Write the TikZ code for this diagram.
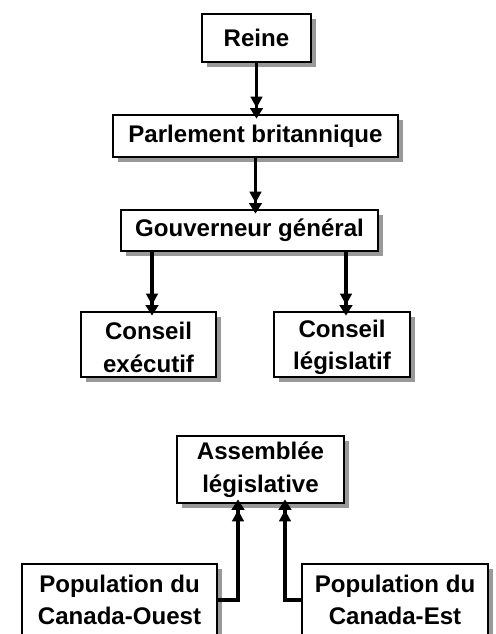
\documentclass[tikz,border=0pt]{standalone}
\usepackage{fontspec}
\setmainfont{Liberation Sans}
\usetikzlibrary{arrows.meta,shadows}

\tikzset{
  box/.style={draw=black, line width=0.9pt, fill=white, align=center, inner sep=0pt,
    font=\bfseries\fontsize{13.7}{18.5}\selectfont,
    drop shadow={shadow xshift=2.8pt, shadow yshift=-2.8pt, fill=black!40, opacity=1}},
  link/.style={line width=2pt,
    -{Triangle[length=6.5pt,width=6.5pt]Triangle[length=6pt,width=7.2pt,sep=-2.5pt]}}
}

\begin{document}
\begin{tikzpicture}[x=0.02cm, y=-0.02cm]
  \useasboundingbox (0,0) rectangle (495,634);
  \clip (0,0) rectangle (495,634);
  % upper chain
  \node[box, minimum width=2.18cm, minimum height=0.96cm] (reine) at (256.5,38) {Reine};
  \node[box, minimum width=5.7cm, minimum height=0.84cm] (parl) at (255.5,136) {Parlement britannique};
  \node[box, minimum width=5.14cm, minimum height=0.82cm] (gouv) at (249.5,230.5) {Gouverneur général};
  \node[box, minimum width=2.7cm, minimum height=1.3cm] (exec) at (148.5,344.5) {\strut Conseil\\exécutif};
  \node[box, minimum width=2.72cm, minimum height=1.3cm] (legis) at (342,344.5) {\strut Conseil\\législatif};
  % lower part
  \node[box, minimum width=3.34cm, minimum height=1.34cm] (assem) at (260.5,469.5) {Assemblée\\législative};
  \node[box, minimum width=3.9cm, minimum height=1.44cm] (ouest) at (119.5,600) {Population du\\Canada-Ouest};
  \node[box, minimum width=3.72cm, minimum height=1.44cm] (est) at (395,600) {Population du\\Canada-Est};

  \draw[link] (reine.south) -- (reine.south |- parl.north);
  \draw[link] (parl.south) -- (parl.south |- gouv.north);
  \draw[link] ([xshift=0.07cm]gouv.south -| exec.north) -- ([xshift=0.07cm]exec.north);
  \draw[link] ([xshift=0.08cm]gouv.south -| legis.north) -- ([xshift=0.08cm]legis.north);
  \draw[link] (ouest.east) -| ([xshift=-0.45cm]assem.south);
  \draw[link] (est.west) -| ([xshift=0.49cm]assem.south);
\end{tikzpicture}
\end{document}
